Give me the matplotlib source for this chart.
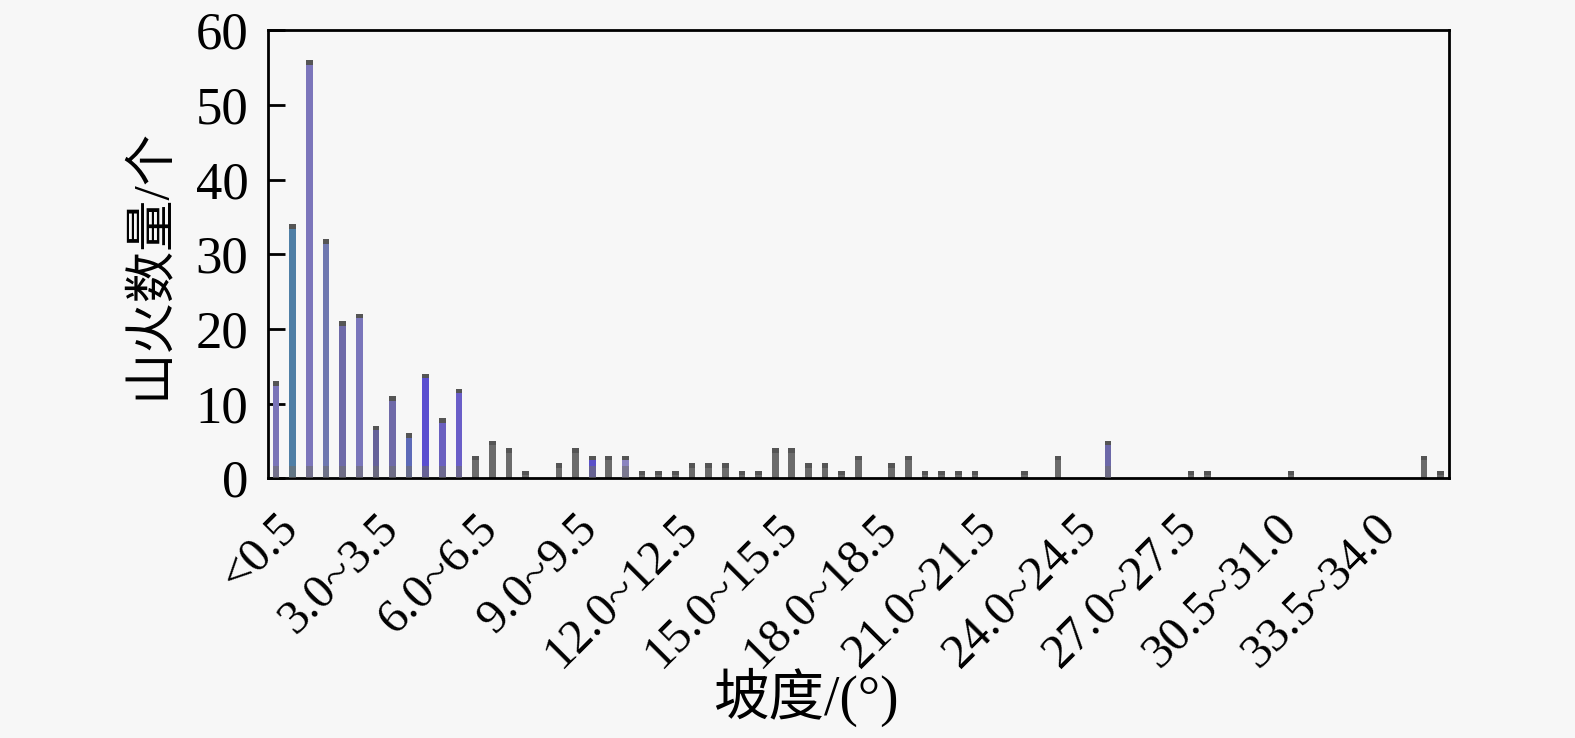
import matplotlib
matplotlib.use("Agg")
import matplotlib.pyplot as plt
import numpy as np

# slope bins (0.5 degree width)
categories = [
    "<0.5", "0.5~1.0", "1.0~1.5", "1.5~2.0", "2.0~2.5", "2.5~3.0",
    "3.0~3.5", "3.5~4.0", "4.0~4.5", "4.5~5.0", "5.0~5.5", "5.5~6.0",
    "6.0~6.5", "6.5~7.0", "7.0~7.5", "7.5~8.0", "8.0~8.5", "8.5~9.0",
    "9.0~9.5", "9.5~10.0", "10.0~10.5", "10.5~11.0", "11.0~11.5", "11.5~12.0",
    "12.0~12.5", "12.5~13.0", "13.0~13.5", "13.5~14.0", "14.0~14.5", "14.5~15.0",
    "15.0~15.5", "15.5~16.0", "16.0~16.5", "16.5~17.0", "17.0~17.5", "17.5~18.0",
    "18.0~18.5", "18.5~19.0", "19.0~19.5", "19.5~20.0", "20.0~20.5", "20.5~21.0",
    "21.0~21.5", "21.5~22.0", "22.0~22.5", "22.5~23.0", "23.0~23.5", "23.5~24.0",
    "24.0~24.5", "24.5~25.0", "25.0~25.5", "25.5~26.0", "26.0~26.5", "26.5~27.0",
    "27.0~27.5", "27.5~28.0", "28.0~28.5", "28.5~29.0", "29.5~30.0", "30.0~30.5",
    "30.5~31.0", "31.0~31.5", "31.5~32.0", "32.0~32.5", "32.5~33.0", "33.0~33.5",
    "33.5~34.0", "34.0~34.5", "34.5~35.0", "35.0~35.5", "35.5~36.0",
]

counts = [
    13, 34, 56, 32, 21, 22, 7, 11, 6, 14, 8, 12,
    3, 5, 4, 1, 0, 2, 4, 3, 3, 3, 1, 1,
    1, 2, 2, 2, 1, 1, 4, 4, 2, 2, 1, 3,
    0, 2, 3, 1, 1, 1, 1, 0, 0, 1, 0, 3,
    0, 0, 5, 0, 0, 0, 0, 1, 1, 0, 0, 0,
    0, 1, 0, 0, 0, 0, 0, 0, 0, 3, 1,
]

label_step = 6

GREY = "#6b6b6b"
bar_colors = [
    "#7a74b8", "#4f7fa6", "#7c76bb", "#6f78b0", "#6e6aa8", "#7a76bb",
    "#66629a", "#6f6aa8", "#5d6ab8", "#5a4fd0", "#6a60c0", "#6a5ec8",
] + [GREY] * (len(counts) - 12)
bar_colors[19] = "#5a50c8"
bar_colors[21] = "#8a84c0"
bar_colors[50] = "#6c68a8"

plt.rcParams["font.family"] = ["Liberation Serif", "Noto Sans CJK SC", "DejaVu Sans"]

fig = plt.figure(figsize=(15.75, 7.38), dpi=100)
bg = "#f7f7f7"
fig.patch.set_facecolor(bg)
ax = fig.add_axes([0.170, 0.352, 0.750, 0.607])
ax.set_facecolor(bg)

x = np.arange(len(counts))
vals = np.array(counts, dtype=float)
ax.bar(x, vals, width=0.4, color=bar_colors, zorder=2)
caps = np.minimum(vals, 0.6)
ax.bar(x, caps, bottom=vals - caps, width=0.4, color="#555555", zorder=3)
bases = np.where(np.array(bar_colors) != GREY, np.minimum(vals, 1.6), 0)
ax.bar(x, bases, width=0.4, color="#707070", alpha=0.6, zorder=3)

ax.set_xlim(-0.5, len(counts) - 0.5)
ax.set_ylim(0, 60)
ax.set_yticks([0, 10, 20, 30, 40, 50, 60])
ax.tick_params(axis="y", direction="in", length=12, width=2, labelsize=38, pad=14)

tick_pos = x[::label_step]
ax.set_xticks(tick_pos)
ax.set_xticklabels([categories[i] for i in tick_pos], rotation=45,
                   ha="right", va="top", rotation_mode="anchor", fontsize=35)
ax.tick_params(axis="x", length=0, pad=20)

for s in ax.spines.values():
    s.set_linewidth(2)
    s.set_color("black")

ax.set_ylabel("山火数量/个", fontsize=37, va="center")
ax.yaxis.set_label_coords(-0.100, 0.48)
ax.set_xlabel("坡度/(°)", fontsize=40, va="center")
ax.xaxis.set_label_coords(0.456, -0.49)

fig.savefig("out.png", dpi=100, facecolor=bg)
